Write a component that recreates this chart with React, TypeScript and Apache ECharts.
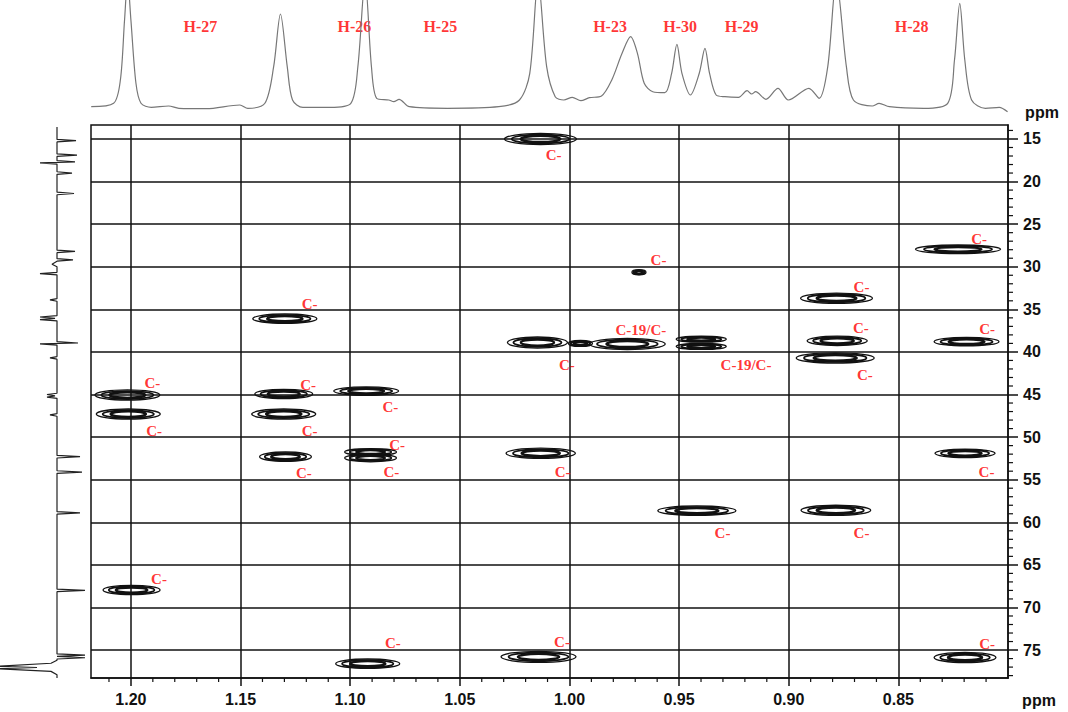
import React, { useEffect, useRef } from "react";
import * as echarts from "echarts";

// ---- axis ranges & ticks ----
const X_MIN = 0.8;
const X_MAX = 1.2182;
const Y_MIN = 13.36;
const Y_MAX = 78.28;
const xMajorTicks = [0.85, 0.9, 0.95, 1.0, 1.05, 1.1, 1.15, 1.2];
const yMajorTicks = [15, 20, 25, 30, 35, 40, 45, 50, 55, 60, 65, 70, 75];
const xMinorTicks: number[] = [];
for (let i = 81; i <= 121; i++) if (i % 5 !== 0) xMinorTicks.push(i / 100);
const yMinorTicks: number[] = [];
for (let i = 14; i <= 78; i++) if (i % 5 !== 0) yMinorTicks.push(i);

// ---- 2D cross peaks (1H ppm, 13C ppm, half-width 1H, half-height 13C) ----
const spotH = [1.2016, 1.2012, 1.1298, 1.1303, 1.1303, 1.0927, 1.1295, 1.1997, 1.0907, 1.0907, 1.0131, 1.0132, 0.9683, 1.0146, 0.995, 0.9736, 0.9399, 0.9399, 0.8782, 0.8779, 0.8788, 0.8228, 0.8189, 0.8196, 0.8196, 0.9419, 0.8785, 1.092, 1.0141];
const spotC = [45.06, 47.3, 36.1, 44.94, 47.3, 44.6, 52.3, 67.95, 51.75, 52.45, 51.9, 15.0, 30.65, 38.9, 39.0, 39.07, 38.5, 39.35, 33.7, 38.7, 40.7, 27.95, 38.8, 51.9, 75.86, 58.64, 58.6, 76.6, 75.8];
const spotHalfH = [0.0148, 0.0146, 0.0146, 0.0132, 0.0146, 0.0148, 0.0118, 0.013, 0.0118, 0.0118, 0.0158, 0.0164, 0.0032, 0.0137, 0.0055, 0.0173, 0.0114, 0.0114, 0.0164, 0.0137, 0.0178, 0.0194, 0.0148, 0.0137, 0.0141, 0.0178, 0.0159, 0.0146, 0.0171];
const spotHalfC = [0.6, 0.6, 0.55, 0.55, 0.6, 0.5, 0.55, 0.55, 0.4, 0.45, 0.6, 0.65, 0.3, 0.65, 0.35, 0.65, 0.35, 0.35, 0.6, 0.55, 0.6, 0.5, 0.5, 0.5, 0.6, 0.55, 0.6, 0.55, 0.65];

// ---- red carbon annotations ----
const cLabelText = ["C-", "C-", "C-", "C-", "C-", "C-", "C-", "C-", "C-", "C-", "C-", "C-", "C-", "C-", "C-19/C-", "C-19/C-", "C-", "C-", "C-", "C-", "C-", "C-", "C-", "C-", "C-", "C-", "C-"];
const cLabelH = [1.1902, 1.1185, 1.1192, 1.1894, 1.1185, 1.1211, 1.1872, 1.0817, 1.0786, 1.0812, 1.0031, 1.0072, 0.9594, 1.0012, 0.9674, 0.9195, 0.8668, 0.8671, 0.8653, 0.8132, 0.8095, 0.8098, 0.8095, 0.9302, 0.8668, 1.0805, 1.0034];
const cLabelC = [43.68, 34.41, 43.88, 49.28, 49.25, 54.18, 66.7, 46.43, 50.93, 54.06, 54.06, 16.88, 29.21, 41.54, 37.43, 41.54, 32.34, 37.23, 42.71, 26.78, 37.35, 54.06, 74.29, 61.3, 61.3, 74.21, 74.02];

// ---- 1H projection (top) ----
const protonPpm = [1.2181, 1.2079, 1.2048, 1.2029, 1.2015, 1.2, 1.1977, 1.1954, 1.1907, 1.1828, 1.1781, 1.1656, 1.1503, 1.1467, 1.1389, 1.1349, 1.1318, 1.1287, 1.1263, 1.1216, 1.1091, 1.0997, 1.0965, 1.0932, 1.0903, 1.0879, 1.0824, 1.0801, 1.0777, 1.073, 1.0557, 1.0322, 1.0228, 1.0181, 1.0143, 1.0104, 1.0065, 1.0026, 0.9987, 0.9948, 0.9909, 0.9854, 0.9807, 0.976, 0.9721, 0.969, 0.9659, 0.962, 0.9565, 0.9534, 0.951, 0.9487, 0.9448, 0.9408, 0.9382, 0.9361, 0.9331, 0.9291, 0.9229, 0.919, 0.9169, 0.9151, 0.9104, 0.9049, 0.9002, 0.8908, 0.8861, 0.8822, 0.8783, 0.8737, 0.8705, 0.8619, 0.8588, 0.8541, 0.8385, 0.8275, 0.8244, 0.822, 0.8197, 0.8166, 0.8103, 0.804, 0.8002];
const protonIntensity = [3.3, 6.7, 30, 90, 130, 90, 26.7, 6.7, 2.7, 4, 1.7, 1.3, 5, 1.7, 6.7, 43.3, 96, 43.3, 10, 2.7, 2.7, 6.7, 43.3, 130, 43.3, 11.7, 10, 8.3, 10.7, 3.3, 1.7, 3.3, 10, 36.7, 130, 43.3, 13.3, 10, 12.7, 9.3, 12.3, 14, 30, 56.7, 73.3, 56.7, 26.7, 18.3, 17.3, 36.7, 65.7, 36.7, 15, 36.7, 61.7, 36.7, 15, 13.3, 12.7, 19.3, 16, 18.3, 10.7, 21.7, 10, 21.7, 11.7, 43.3, 130, 43.3, 10, 4, 6.7, 3.3, 1.7, 6.7, 50, 106.7, 50, 10, 1.7, 2.7, -1.7];
const hLabelText = ["H-27", "H-26", "H-25", "H-23", "H-30", "H-29", "H-28"];
const hLabelPpm = [1.1683, 1.0981, 1.0589, 0.9815, 0.9495, 0.9215, 0.8439];
const hLabelHeight = [83.3, 83.3, 83.3, 83.3, 83.3, 83.3, 83.3];

// ---- 13C projection (left) ----
const carbonPpm = [13.6, 15.05, 15.2, 15.35, 16.75, 16.9, 17.05, 17.55, 17.7, 17.8, 17.95, 18.85, 19.0, 19.15, 21.25, 21.4, 21.55, 28.05, 28.2, 28.35, 29.05, 29.2, 29.35, 29.7, 30.0, 30.65, 30.8, 30.95, 33.75, 33.9, 34.05, 35.75, 35.9, 36.05, 36.2, 36.35, 38.8, 38.95, 39.05, 39.2, 40.55, 40.7, 40.85, 44.85, 45.0, 45.15, 45.3, 45.45, 47.25, 47.4, 47.55, 52.15, 52.3, 52.45, 53.95, 54.1, 54.25, 58.75, 58.9, 59.05, 67.85, 68.0, 68.15, 75.45, 75.6, 75.75, 75.9, 76.05, 76.2, 76.55, 76.9, 77.05, 77.2, 77.5, 77.9, 78.28];
const carbonIntensity = [0, 0, -19, 0, 0, -20, 0, 0, -18, 17, 0, 0, -15, 0, 0, -17, 0, 0, -18, 0, 0, -16, 0, 5, 0, 0, 17, 0, 0, 7, 0, 0, 17, 2, 17, 0, 0, -21, 17, 0, 0, 7, 0, 0, 10, 2, 10, 0, 0, 7, 0, 0, -23, 0, 0, -25, 0, 0, -23, 0, 0, -28, 0, 0, -28, 0, -28, 0, 0, 6, 60, 20, 60, 6, 0, 0];

const SANS = "'Liberation Sans', Arial, sans-serif";
const SERIF = "'Liberation Serif', 'Times New Roman', serif";
const INK = "#111";
const RED = "#f00";

export default function App() {
  const ref = useRef<HTMLDivElement>(null);
  useEffect(() => {
    if (!ref.current) return;
    const chart = echarts.init(ref.current, undefined, { renderer: "svg" });

    const spotData = spotH.map((h, i) => [h, spotC[i], spotHalfH[i], spotHalfC[i]]);
    const cLabels = cLabelText.map((t, i) => ({ name: t, value: [cLabelH[i], cLabelC[i]] }));
    const protonData = protonPpm.map((p, i) => [p, protonIntensity[i]]);
    const hLabels = hLabelText.map((t, i) => ({ name: t, value: [hLabelPpm[i], hLabelHeight[i]] }));
    const carbonData = carbonPpm.map((p, i) => [carbonIntensity[i], p]);
    // minor ticks: x ticks sit on the bottom edge (13C = Y_MAX), y ticks on the right edge (1H = X_MIN)
    const xMinorData = xMinorTicks.map((v) => [v, Y_MAX]);
    const yMinorData = yMinorTicks.map((v) => [X_MIN, v]);

    const hiddenAxis = { show: false, axisLine: { show: false }, axisTick: { show: false }, axisLabel: { show: false }, splitLine: { show: false } };

    const tickRenderer = (dx: number, dy: number) => (params: any, api: any) => {
      const p = api.coord([api.value(0), api.value(1)]);
      return {
        type: "line",
        shape: { x1: p[0], y1: p[1], x2: p[0] + dx, y2: p[1] + dy },
        style: { stroke: INK, lineWidth: 1.2 },
      };
    };

    chart.setOption({
      animation: false,
      backgroundColor: "#fff",
      grid: [
        { left: 91, right: 60, top: 125, bottom: 34, show: true, borderColor: INK, borderWidth: 1.5, backgroundColor: "transparent" },
        { left: 91, right: 60, top: 0, height: 115 },
        { left: 0, width: 90, top: 125, bottom: 34 },
      ],
      xAxis: [
        {
          gridIndex: 0, type: "value", min: X_MIN, max: X_MAX, inverse: true, position: "bottom",
          axisLine: { show: true, onZero: false, lineStyle: { color: INK, width: 1.5 } },
          axisTick: { show: true, customValues: xMajorTicks, length: 8, lineStyle: { color: INK, width: 1.5 } },
          axisLabel: { show: true, customValues: xMajorTicks, formatter: (v: number) => v.toFixed(2), fontSize: 16, fontWeight: "bold", fontFamily: SANS, color: INK, margin: 13 },
          splitLine: { show: true, lineStyle: { color: INK, width: 1.5 } },
        },
        { gridIndex: 1, type: "value", min: X_MIN, max: X_MAX, inverse: true, ...hiddenAxis },
        { gridIndex: 2, type: "value", min: -33, max: 57, inverse: true, ...hiddenAxis },
      ],
      yAxis: [
        {
          gridIndex: 0, type: "value", min: Y_MIN, max: Y_MAX, inverse: true, position: "right",
          axisLine: { show: true, onZero: false, lineStyle: { color: INK, width: 1.5 } },
          axisTick: { show: true, customValues: yMajorTicks, length: 10, lineStyle: { color: INK, width: 1.5 } },
          axisLabel: { show: true, customValues: yMajorTicks, fontSize: 16, fontWeight: "bold", fontFamily: SANS, color: INK, margin: 15 },
          splitLine: { show: true, lineStyle: { color: INK, width: 1.5 } },
        },
        { gridIndex: 1, type: "value", min: -5, max: 110, ...hiddenAxis },
        { gridIndex: 2, type: "value", min: Y_MIN, max: Y_MAX, inverse: true, ...hiddenAxis },
      ],
      graphic: [
        { type: "text", x: 1042, y: 112, style: { text: "ppm", font: `bold 16px ${SANS}`, fill: INK, textAlign: "center", textVerticalAlign: "middle" } },
        { type: "text", x: 1039, y: 700, style: { text: "ppm", font: `bold 16px ${SANS}`, fill: INK, textAlign: "center", textVerticalAlign: "middle" } },
      ],
      series: [
        {
          type: "custom",
          name: "HSQC",
          xAxisIndex: 0,
          yAxisIndex: 0,
          data: spotData,
          encode: { x: 0, y: 1 },
          clip: true,
          renderItem: (params: any, api: any) => {
            const c = api.coord([api.value(0), api.value(1)]);
            const s = api.size([api.value(2), api.value(3)]);
            const rx = Math.abs(s[0]);
            const ry = Math.abs(s[1]);
            return {
              type: "group",
              children: [
                { type: "ellipse", shape: { cx: c[0], cy: c[1], rx, ry }, style: { fill: "none", stroke: INK, lineWidth: 1.3 } },
                { type: "ellipse", shape: { cx: c[0], cy: c[1], rx: rx * 0.8, ry: ry * 0.78 }, style: { fill: "none", stroke: INK, lineWidth: 1.8 } },
                { type: "ellipse", shape: { cx: c[0], cy: c[1], rx: rx * 0.55, ry: ry * 0.55 }, style: { fill: "none", stroke: INK, lineWidth: 2.4 } },
              ],
            };
          },
        },
        {
          type: "custom",
          name: "x minor ticks",
          xAxisIndex: 0,
          yAxisIndex: 0,
          data: xMinorData,
          encode: { x: 0, y: 1 },
          clip: false,
          silent: true,
          renderItem: tickRenderer(0, 4),
        },
        {
          type: "custom",
          name: "y minor ticks",
          xAxisIndex: 0,
          yAxisIndex: 0,
          data: yMinorData,
          encode: { x: 0, y: 1 },
          clip: false,
          silent: true,
          renderItem: tickRenderer(5, 0),
        },
        {
          type: "scatter",
          name: "carbon labels",
          xAxisIndex: 0,
          yAxisIndex: 0,
          symbolSize: 1,
          itemStyle: { color: "rgba(0,0,0,0)" },
          data: cLabels,
          label: { show: true, position: "inside", formatter: "{b}", color: RED, fontSize: 15, fontWeight: "bold", fontFamily: SERIF },
        },
        {
          type: "line",
          name: "1H",
          xAxisIndex: 1,
          yAxisIndex: 1,
          data: protonData,
          showSymbol: false,
          smooth: 0.3,
          clip: true,
          lineStyle: { color: "#777", width: 1.2 },
        },
        {
          type: "scatter",
          name: "proton labels",
          xAxisIndex: 1,
          yAxisIndex: 1,
          symbolSize: 1,
          itemStyle: { color: "rgba(0,0,0,0)" },
          data: hLabels,
          label: { show: true, position: "inside", formatter: "{b}", color: RED, fontSize: 16, fontWeight: "bold", fontFamily: SERIF },
        },
        {
          type: "line",
          name: "13C",
          xAxisIndex: 2,
          yAxisIndex: 2,
          data: carbonData,
          showSymbol: false,
          clip: true,
          lineStyle: { color: "#222", width: 1.2 },
        },
      ],
    });
    return () => chart.dispose();
  }, []);
  return <div ref={ref} style={{ position: "fixed", left: 0, top: 0, width: 1068, height: 712, background: "#fff" }} />;
}
